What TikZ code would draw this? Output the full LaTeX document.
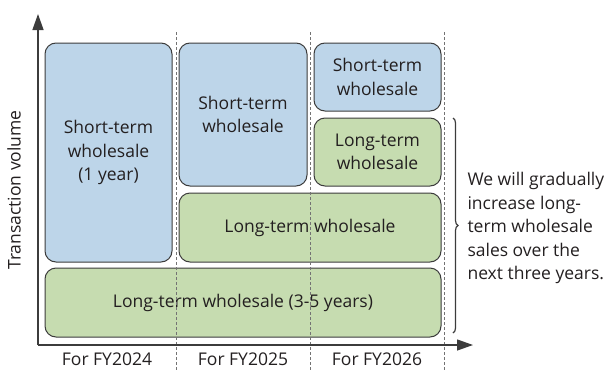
\documentclass[tikz,border=0pt]{standalone}
\usepackage{fontspec}
\setmainfont{Open Sans}
\usetikzlibrary{arrows.meta,decorations.pathreplacing}
\definecolor{shortblue}{HTML}{BDD5E9}
\definecolor{longgreen}{HTML}{C6DCB0}
\definecolor{edgegray}{HTML}{3C3C3C}
\definecolor{txt}{HTML}{231F20}
\tikzset{
  box/.style={draw=edgegray, line width=1pt, rounded corners=11pt, align=center,
    text=txt, font=\fontsize{17.5}{23.5}\selectfont, inner sep=0pt},
  shortbox/.style={box, fill=shortblue},
  longbox/.style={box, fill=longgreen},
  sep/.style={draw=gray!90!black, line width=1pt, dash pattern=on 3pt off 2pt},
  lbl/.style={text=txt, font=\fontsize{17.5}{23.5}\selectfont}
}
\begin{document}
\begin{tikzpicture}[x=1pt, y=-1pt]
    \useasboundingbox (0,0) rectangle (611,370);

    \node[shortbox, minimum width=127pt, minimum height=219pt] (s24) at (108.5,152.5) {Short-term\\wholesale\\(1 year)};
    \node[shortbox, minimum width=128pt, minimum height=143pt] (s25) at (243,114.5) {Short-term\\wholesale};
    \node[shortbox, minimum width=127pt, minimum height=68pt]  (s26) at (377.5,77) {Short-term\\wholesale};
    \node[longbox,  minimum width=127pt, minimum height=68pt]  (l26) at (377.5,152) {Long-term\\wholesale};
    \node[longbox,  minimum width=262pt, minimum height=69pt]  (l25) at (310,227.5) {Long-term wholesale};
    \node[longbox,  minimum width=396pt, minimum height=69pt]  (l24) at (243,302.5) {Long-term wholesale (3-5 years)};

    \draw[sep] (176,32) -- (176,370);
    \draw[sep] (310,32) -- (310,370);
    \draw[sep] (444,32) -- (444,370);

    \coordinate (o) at (38,345);
    \coordinate (ytip) at (38,14);
    \coordinate (xtip) at (473,345);
    \draw[line width=1.3pt, edgegray, -{Triangle[length=16pt,width=11pt]}] (o) -- (ytip);
    \draw[line width=1.3pt, edgegray, -{Triangle[length=16pt,width=11pt]}] (o) -- (xtip);

    \node[lbl, rotate=90] (yl) at (14,190) {Transaction volume};
    \node[lbl] (f24) at (107,359) {For FY2024};
    \node[lbl] (f25) at (243,359) {For FY2025};
    \node[lbl] (f26) at (377,359) {For FY2026};

    \coordinate (btop) at (453,118);
    \coordinate (bbot) at (453,333);
    \draw[line width=1.2pt, edgegray, decorate, decoration={brace, amplitude=5pt}] (btop) -- (bbot);
    \node[lbl, anchor=west, align=left] (note) at (464,228)
      {We will gradually\\increase long-\\term wholesale\\sales over the\\next three years.};
\end{tikzpicture}
\end{document}
